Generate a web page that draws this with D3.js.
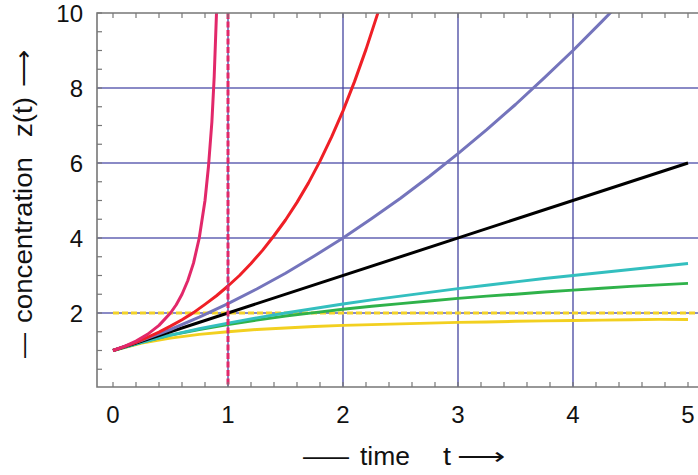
<!DOCTYPE html>
<html>
<head>
<meta charset="utf-8">
<script src="https://cdn.jsdelivr.net/npm/d3@7"></script>
<style>
  body { margin: 0; background: #fff; }
  text { font-family: "Liberation Sans", Arial, Helvetica, sans-serif; fill: #111; }
</style>
</head>
<body>
<svg width="698" height="475"></svg>
<script>
// values (t, z pairs per curve)
var tFine = [0, 0.1, 0.2, 0.3, 0.4, 0.5, 0.6, 0.7, 0.8, 0.9, 1.0, 1.1, 1.2, 1.3, 1.4, 1.5, 1.6, 1.7, 1.8, 1.9, 2.0, 2.1, 2.2, 2.3, 2.4];
var tCoarse = [0, 0.25, 0.5, 0.75, 1, 1.25, 1.5, 1.75, 2, 2.25, 2.5, 2.75, 3, 3.25, 3.5, 3.75, 4, 4.25, 4.5, 4.75, 5];
var tMagenta = [0, 0.1, 0.2, 0.3, 0.4, 0.5, 0.55, 0.6, 0.65, 0.7, 0.75, 0.8, 0.83, 0.86, 0.88, 0.9];

var magentaZ = [1, 1.11, 1.25, 1.43, 1.67, 2.0, 2.22, 2.5, 2.86, 3.33, 4.0, 5.0, 5.9, 7.1, 8.3, 10.0];
var redZ = [1, 1.105, 1.22, 1.35, 1.49, 1.65, 1.82, 2.01, 2.23, 2.46, 2.72, 3.0, 3.32, 3.67, 4.06, 4.48, 4.95, 5.47, 6.05, 6.69, 7.39, 8.17, 9.03, 9.97, 11.0];
var purpleZ = [1, 1.27, 1.56, 1.89, 2.25, 2.64, 3.06, 3.52, 4.0, 4.52, 5.06, 5.64, 6.25, 6.89, 7.56, 8.27, 9.0, 9.77, 10.56];
var blackT = [0, 5];
var blackZ = [1, 6];
var cyanZ = [1, 1.22, 1.41, 1.58, 1.73, 1.87, 2.0, 2.12, 2.24, 2.35, 2.45, 2.55, 2.65, 2.74, 2.83, 2.92, 3.0, 3.08, 3.16, 3.24, 3.32];
var greenZ = [1, 1.22, 1.41, 1.56, 1.69, 1.81, 1.92, 2.01, 2.1, 2.18, 2.25, 2.32, 2.39, 2.45, 2.5, 2.56, 2.61, 2.66, 2.71, 2.75, 2.79];
var yellowZ = [1, 1.2, 1.33, 1.43, 1.5, 1.56, 1.6, 1.64, 1.67, 1.69, 1.71, 1.73, 1.75, 1.76, 1.78, 1.79, 1.8, 1.81, 1.82, 1.83, 1.83];

var xTicks = [0, 1, 2, 3, 4, 5];
var yTicks = [2, 4, 6, 8, 10];
var hGrid = [2, 4, 6, 8];
var vGrid = [1, 2, 3, 4];
var asymptoteZ = 2;
var poleT = 1;

var svg = d3.select("svg");
var x = d3.scaleLinear().domain([0, 5]).range([113, 688]);
var y = d3.scaleLinear().domain([0, 10]).range([388, 13]);
var pLeft = 97, pRight = 698, pTop = 13, pBottom = 387;

svg.append("clipPath").attr("id", "plot")
  .append("rect").attr("x", pLeft).attr("y", pTop).attr("width", pRight - pLeft).attr("height", pBottom - pTop);

var g = svg.append("g").attr("clip-path", "url(#plot)");

// grid
g.selectAll(".hg").data(hGrid).enter().append("line")
  .attr("x1", pLeft).attr("x2", pRight)
  .attr("y1", function(d) { return y(d); }).attr("y2", function(d) { return y(d); })
  .attr("stroke", "#8a8ac6").attr("stroke-width", 1.8);
g.selectAll(".vg").data(vGrid).enter().append("line")
  .attr("y1", pTop).attr("y2", pBottom)
  .attr("x1", function(d) { return x(d); }).attr("x2", function(d) { return x(d); })
  .attr("stroke", "#4444a0").attr("stroke-width", 1.3);

// asymptote
g.append("line")
  .attr("x1", x(0)).attr("x2", pRight)
  .attr("y1", y(asymptoteZ)).attr("y2", y(asymptoteZ))
  .attr("stroke", "#f2d22a").attr("stroke-width", 3).attr("stroke-dasharray", "6,3");

var line = d3.line().x(function(d) { return x(d[0]); }).y(function(d) { return y(d[1]); });
function pairs(ts, zs) { return zs.map(function(z, i) { return [ts[i], z]; }); }

var curves = [
  { pts: pairs(tCoarse, yellowZ), color: "#f2d020" },
  { pts: pairs(tCoarse, greenZ), color: "#2fb24a" },
  { pts: pairs(tCoarse, cyanZ), color: "#33bfbf" },
  { pts: pairs(blackT, blackZ), color: "#000000" },
  { pts: pairs(tCoarse, purpleZ), color: "#7474bc" },
  { pts: pairs(tFine, redZ), color: "#ef1f26" },
  { pts: pairs(tMagenta, magentaZ), color: "#e2286a" }
];

g.selectAll(".curve").data(curves).enter().append("path")
  .attr("d", function(d) { return line(d.pts); })
  .attr("fill", "none")
  .attr("stroke", function(d) { return d.color; })
  .attr("stroke-width", 3)
  .attr("stroke-linejoin", "round");

// pole
g.append("line")
  .attr("x1", x(poleT)).attr("x2", x(poleT))
  .attr("y1", pTop).attr("y2", pBottom)
  .attr("stroke", "#e2286a").attr("stroke-width", 3).attr("stroke-dasharray", "6,2.5");

// frame
var frame = svg.append("g").attr("stroke", "#777").attr("stroke-width", 1.6).attr("fill", "none");
frame.append("path").attr("d", "M" + pRight + "," + pTop + "H" + pLeft + "V" + pBottom + "H" + pRight);

var minorX = d3.range(0, 5.01, 0.2);
var minorY = d3.range(0.5, 10.01, 0.5);
frame.selectAll(".tb").data(minorX).enter().append("line")
  .attr("x1", function(d) { return x(d); }).attr("x2", function(d) { return x(d); })
  .attr("y1", pBottom).attr("y2", pBottom - 5).attr("stroke-width", 1.2);
frame.selectAll(".tt").data(minorX).enter().append("line")
  .attr("x1", function(d) { return x(d); }).attr("x2", function(d) { return x(d); })
  .attr("y1", pTop).attr("y2", pTop + 5).attr("stroke-width", 1.2);
frame.selectAll(".tl").data(minorY).enter().append("line")
  .attr("y1", function(d) { return y(d); }).attr("y2", function(d) { return y(d); })
  .attr("x1", pLeft).attr("x2", pLeft + 5).attr("stroke-width", 1.2);

// tick labels
svg.selectAll(".xl").data(xTicks).enter().append("text")
  .attr("x", function(d) { return x(d); }).attr("y", 423)
  .attr("text-anchor", "middle").attr("font-size", 24)
  .text(function(d) { return d; });
svg.selectAll(".yl").data(yTicks).enter().append("text")
  .attr("x", 83).attr("y", function(d) { return y(d) + 8.5; })
  .attr("text-anchor", "end").attr("font-size", 24)
  .text(function(d) { return d; });

// axis titles, pieces placed as in the picture: [text, start, length]
var xTitle = [["\u2014", 303, 46], ["time", 360, 50], ["t", 443, 8], ["\u27F6", 457, 48]];
var yTitle = [["\u2014", 333, 25], ["concentration", 157, 166], ["z(t)", 97, 40], ["\u27F6", 50, 37]];

svg.selectAll(".xt").data(xTitle).enter().append("text")
  .attr("x", function(d) { return d[1]; }).attr("y", 465)
  .attr("font-size", 26)
  .attr("textLength", function(d) { return d[2]; })
  .attr("lengthAdjust", "spacingAndGlyphs")
  .text(function(d) { return d[0]; });

var yt = svg.append("g").attr("transform", "translate(32,0) rotate(-90)");
yt.selectAll(".ytl").data(yTitle).enter().append("text")
  .attr("x", function(d) { return -(d[1] + d[2]); }).attr("y", 0)
  .attr("font-size", 26)
  .attr("textLength", function(d) { return d[2]; })
  .attr("lengthAdjust", "spacingAndGlyphs")
  .text(function(d) { return d[0]; });
</script>
</body>
</html>
